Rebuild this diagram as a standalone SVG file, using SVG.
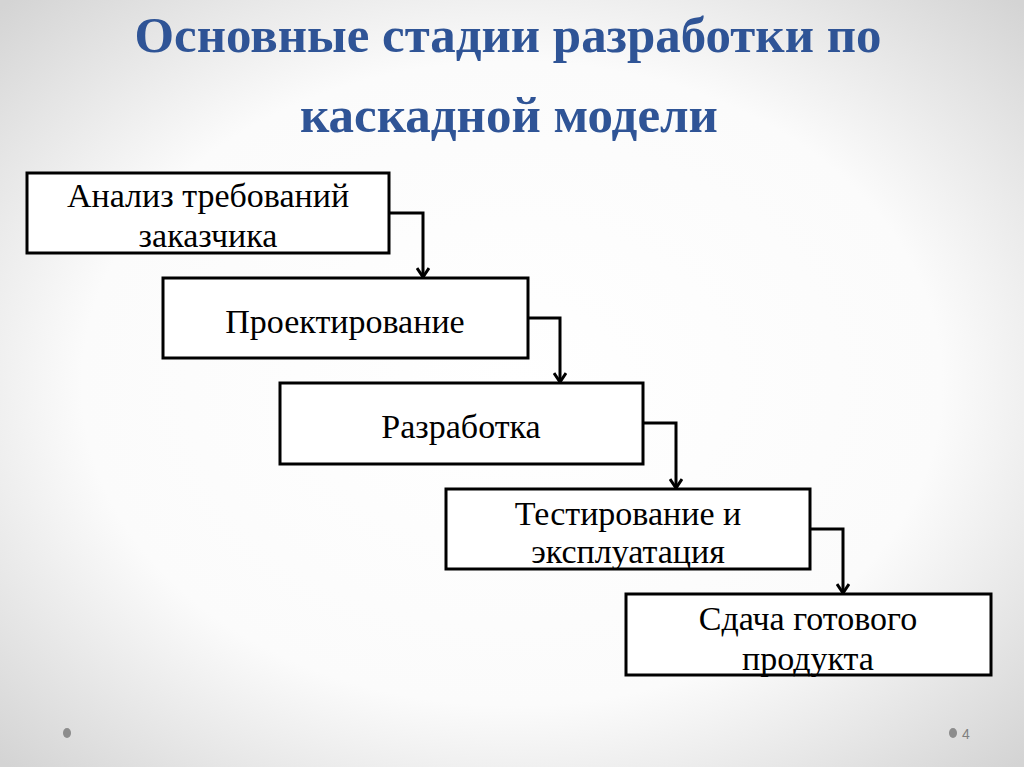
<svg xmlns="http://www.w3.org/2000/svg" width="1024" height="767" viewBox="0 0 1024 767">
<defs>
<radialGradient id="bg" cx="50%" cy="50%" r="70%">
<stop offset="0" stop-color="#ffffff"/>
<stop offset="0.6" stop-color="#fbfbfb"/>
<stop offset="1" stop-color="#d4d4d4"/>
</radialGradient>
<marker id="arr" markerWidth="14" markerHeight="14" refX="11" refY="7" orient="auto" markerUnits="userSpaceOnUse" viewBox="0 0 14 14">
<path d="M2,1 L11,7 L2,13" fill="none" stroke="#000" stroke-width="3"/>
</marker>
<style>
.box{fill:#fff;stroke:#000;stroke-width:3}
.lbl{font-family:"Liberation Serif","Times New Roman",serif;font-size:34px;fill:#000;text-anchor:middle}
.title{font-family:"Liberation Serif","Times New Roman",serif;font-weight:bold;font-size:50px;fill:#2f5496;text-anchor:middle}
.con{fill:none;stroke:#000;stroke-width:3}
</style>
</defs>
<rect x="0" y="0" width="1024" height="767" fill="url(#bg)"/>
<g id="title">
<text class="title" x="508" y="52" textLength="747" lengthAdjust="spacingAndGlyphs">Основные стадии разработки по</text>
<text class="title" x="509" y="132" textLength="418" lengthAdjust="spacingAndGlyphs">каскадной модели</text>
</g>
<g id="connectors">
<path class="con" d="M389,213 H423 V277" marker-end="url(#arr)"/>
<path class="con" d="M528,318 H560 V382" marker-end="url(#arr)"/>
<path class="con" d="M643,423 H676 V488" marker-end="url(#arr)"/>
<path class="con" d="M810,529 H843 V593" marker-end="url(#arr)"/>
</g>
<g id="node1">
<rect class="box" x="27" y="173" width="362" height="80"/>
<text class="lbl" x="208" y="207">Анализ требований</text>
<text class="lbl" x="208" y="247">заказчика</text>
</g>
<g id="node2">
<rect class="box" x="163" y="278" width="365" height="80"/>
<text class="lbl" x="345" y="333">Проектирование</text>
</g>
<g id="node3">
<rect class="box" x="280" y="383" width="363" height="81"/>
<text class="lbl" x="461" y="438">Разработка</text>
</g>
<g id="node4">
<rect class="box" x="446" y="489" width="364" height="80"/>
<text class="lbl" x="628" y="525">Тестирование и</text>
<text class="lbl" x="628" y="563">эксплуатация</text>
</g>
<g id="node5">
<rect class="box" x="626" y="594" width="365" height="81"/>
<text class="lbl" x="808" y="630">Сдача готового</text>
<text class="lbl" x="808" y="670">продукта</text>
</g>
<g id="footer">
<ellipse cx="67" cy="733" rx="4" ry="5" fill="#8c8c8c"/>
<ellipse cx="953" cy="733" rx="4" ry="5" fill="#8c8c8c"/>
<text x="962" y="739" font-family="Liberation Sans, Arial, sans-serif" font-size="14" fill="#7f7f7f">4</text>
</g>
</svg>
